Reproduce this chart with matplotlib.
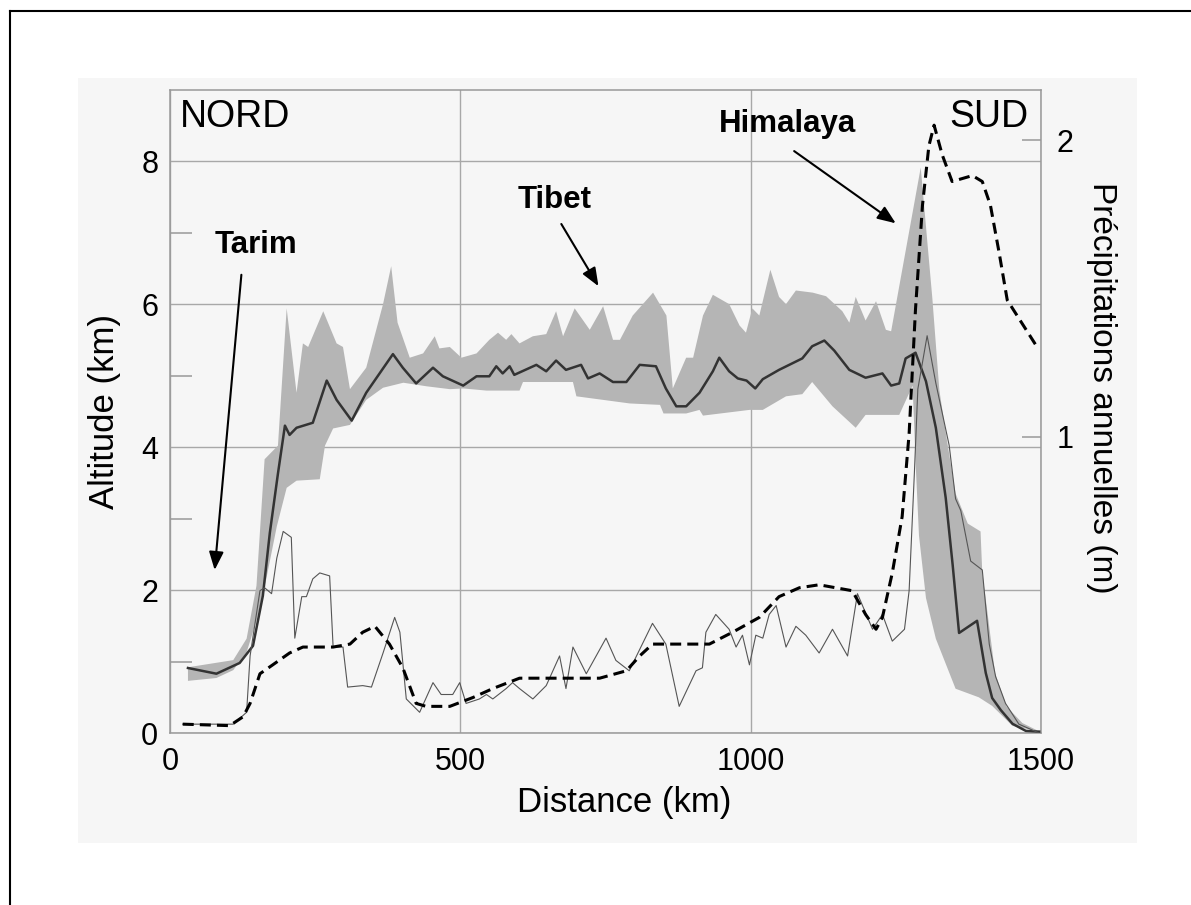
import numpy as np
import matplotlib.pyplot as plt
from matplotlib.patches import Rectangle
from matplotlib.lines import Line2D

plt.rcParams['font.family'] = ['Liberation Sans', 'DejaVu Sans']

# =============================================================================
# --- Données ------------------------------------------------------------------
# =============================================================================

# altitude moyenne (km)
alt_x = [31, 80, 120, 143, 160, 172, 186, 198, 206, 218, 246, 270, 287, 313, 338, 384, 401, 424, 453, 470,
         505, 528, 550, 562, 573, 585, 593, 631, 648, 665, 682, 708, 720, 740, 763, 786, 809, 837, 854, 872,
         889, 912, 935, 946, 963, 978, 993, 1008, 1021, 1049, 1089, 1106, 1127, 1144, 1170, 1198, 1227, 1242,
         1256, 1267, 1284, 1302, 1319, 1336, 1348, 1359, 1390, 1405, 1416, 1431, 1451, 1474, 1497]
alt_moy = [0.91, 0.83, 0.98, 1.22, 1.92, 2.8, 3.63, 4.3, 4.17, 4.27, 4.34, 4.93, 4.66, 4.37, 4.76, 5.3, 5.11, 4.89,
           5.11, 4.99, 4.86, 4.99, 4.99, 5.13, 5.03, 5.13, 5.01, 5.15, 5.06, 5.21, 5.08, 5.15, 4.96, 5.03, 4.91,
           4.91, 5.15, 5.13, 4.82, 4.57, 4.57, 4.76, 5.06, 5.25, 5.06, 4.96, 4.93, 4.82, 4.95, 5.08, 5.24, 5.41,
           5.49, 5.35, 5.08, 4.97, 5.03, 4.86, 4.89, 5.24, 5.32, 4.92, 4.27, 3.29, 2.35, 1.4, 1.57, 0.84, 0.49,
           0.32, 0.13, 0.03, 0.02]

# altitude maximale (bord haut de la bande grise)
max_x = [31, 109, 132, 149, 163, 186, 201, 218, 229, 238, 264, 287, 298, 310, 338, 367, 381, 392, 413, 436,
         456, 464, 482, 502, 528, 550, 565, 579, 588, 602, 625, 648, 665, 677, 697, 723, 746, 763, 775, 797,
         832, 855, 866, 889, 901, 918, 935, 963, 981, 992, 1003, 1015, 1034, 1049, 1061, 1078, 1107, 1130,
         1158, 1170, 1181, 1198, 1216, 1233, 1242, 1256, 1293, 1313, 1325, 1338, 1353, 1374, 1396, 1399,
         1408, 1421, 1441, 1468, 1493]
alt_max = [0.92, 1.02, 1.32, 2.06, 3.83, 4.02, 5.94, 4.76, 5.45, 5.4, 5.9, 5.45, 5.4, 4.81, 5.11, 6.0, 6.53, 5.74,
           5.25, 5.31, 5.55, 5.38, 5.4, 5.25, 5.31, 5.5, 5.6, 5.5, 5.58, 5.45, 5.55, 5.58, 5.9, 5.55, 5.94, 5.64,
           5.97, 5.5, 5.5, 5.84, 6.16, 5.84, 4.82, 5.25, 5.25, 5.84, 6.13, 6.0, 5.7, 5.6, 5.94, 5.84, 6.48, 6.1,
           6.0, 6.19, 6.16, 6.11, 5.9, 5.74, 6.1, 5.77, 6.04, 5.64, 5.62, 6.25, 7.91, 6.08, 4.8, 4.1, 3.35, 2.93,
           2.82, 2.24, 1.68, 0.84, 0.37, 0.14, 0.04]

# altitude minimale (bord bas de la bande grise)
min_x = [31, 80, 109, 132, 149, 166, 184, 201, 218, 258, 267, 281, 310, 338, 367, 402, 442, 482, 505, 545,
         602, 608, 694, 700, 792, 844, 850, 889, 912, 918, 998, 1021, 1061, 1089, 1106, 1141, 1181, 1198,
         1256, 1279, 1284, 1290, 1302, 1319, 1353, 1393, 1416, 1451, 1493]
alt_min = [0.73, 0.77, 0.88, 1.13, 1.57, 2.16, 2.89, 3.43, 3.53, 3.55, 4.02, 4.26, 4.31, 4.66, 4.83, 4.9, 4.85,
           4.81, 4.82, 4.79, 4.79, 4.91, 4.91, 4.71, 4.61, 4.59, 4.47, 4.47, 4.52, 4.44, 4.52, 4.52, 4.71, 4.74,
           4.91, 4.57, 4.27, 4.45, 4.45, 4.86, 3.81, 2.76, 1.89, 1.32, 0.62, 0.5, 0.38, 0.1, 0.03]

# précipitations (m), trait fin
fin_x = [22, 109, 132, 138, 155, 163, 175, 184, 195, 209, 215, 227, 235, 246, 258, 275, 281, 298, 306, 332,
         347, 367, 387, 396, 407, 430, 453, 467, 487, 499, 510, 533, 545, 556, 579, 590, 602, 625, 648, 671,
         682, 694, 717, 751, 768, 791, 831, 854, 877, 906, 917, 923, 940, 963, 975, 986, 998, 1009, 1021, 1032,
         1044, 1061, 1078, 1095, 1118, 1141, 1167, 1184, 1210, 1227, 1244, 1265, 1273, 1282, 1288, 1304, 1319,
         1342, 1353, 1362, 1379, 1399, 1411, 1422, 1439, 1462, 1497]
prec_fin = [0.03, 0.03, 0.07, 0.26, 0.48, 0.49, 0.47, 0.59, 0.68, 0.66, 0.32, 0.46, 0.46, 0.52, 0.54, 0.53, 0.29,
            0.29, 0.155, 0.16, 0.155, 0.27, 0.39, 0.34, 0.115, 0.07, 0.17, 0.13, 0.13, 0.17, 0.10, 0.115, 0.13,
            0.115, 0.15, 0.17, 0.15, 0.115, 0.16, 0.26, 0.15, 0.29, 0.20, 0.32, 0.245, 0.21, 0.37, 0.30, 0.09,
            0.21, 0.22, 0.34, 0.40, 0.35, 0.29, 0.33, 0.23, 0.33, 0.32, 0.40, 0.43, 0.29, 0.36, 0.33, 0.27, 0.35,
            0.26, 0.47, 0.35, 0.40, 0.31, 0.35, 0.48, 0.875, 1.16, 1.34, 1.18, 0.97, 0.79, 0.75, 0.58, 0.55,
            0.30, 0.19, 0.10, 0.03, 0.0]

# précipitations (m), tirets
tir_x = [22, 103, 126, 138, 155, 177, 206, 229, 281, 310, 332, 353, 378, 401, 424, 441, 482, 522, 556, 602,
         740, 786, 809, 831, 929, 969, 1015, 1049, 1084, 1118, 1175, 1198, 1216, 1227, 1244, 1261, 1273, 1284,
         1296, 1307, 1316, 1330, 1347, 1382, 1399, 1413, 1428, 1442, 1468, 1494]
prec_tir = [0.03, 0.025, 0.055, 0.10, 0.20, 0.23, 0.27, 0.29, 0.29, 0.30, 0.34, 0.36, 0.30, 0.22, 0.10, 0.09,
            0.09, 0.12, 0.15, 0.185, 0.185, 0.21, 0.26, 0.30, 0.30, 0.34, 0.39, 0.46, 0.49, 0.50, 0.48, 0.40,
            0.35, 0.39, 0.54, 0.73, 1.01, 1.43, 1.78, 1.98, 2.05, 1.95, 1.86, 1.88, 1.86, 1.78, 1.62, 1.46,
            1.38, 1.30]

gris = '#999999'

# =============================================================================
# --- Création de la figure ------------------------------------------------------
# =============================================================================
fig = plt.figure(figsize=(11.91, 9.05), dpi=100)

# fond gris clair de la figure scannée + cadre de la page
fig.add_artist(Rectangle((0.0655, 0.0685), 0.889, 0.845, transform=fig.transFigure,
                         facecolor='#f6f6f6', edgecolor='none', zorder=-10))
fig.add_artist(Line2D([0.0084, 1.0], [0.988, 0.988], transform=fig.transFigure, color='black', lw=1.5))
fig.add_artist(Line2D([0.0084, 0.0084], [0.0, 0.988], transform=fig.transFigure, color='black', lw=1.5))

ax = fig.add_axes([0.1427, 0.190, 0.7313, 0.711])
ax.set_facecolor('none')

# bande grise min/max puis altitude moyenne
ax.fill(max_x + min_x[::-1], alt_max + alt_min[::-1], color='#b5b5b5', lw=0, zorder=1)
ax.plot(alt_x, alt_moy, color='#333333', lw=1.8, zorder=3)

ax.set_xlim(0, 1500)
ax.set_ylim(0, 9)
ax.set_xticks([0, 500, 1000, 1500])
ax.set_yticks([0, 2, 4, 6, 8])
ax.set_yticks([1, 3, 5, 7], minor=True)
ax.grid(True, which='major', color='#a8a8a8', lw=1.0)
ax.set_axisbelow(True)
ax.tick_params(axis='both', which='major', length=0, labelsize=22)
ax.tick_params(axis='x', which='major', pad=10)
ax.tick_params(axis='y', which='major', pad=8.5)
ax.tick_params(axis='y', which='minor', direction='in', length=16, width=1.1, color=gris)
for s in ax.spines.values():
    s.set_color(gris)
    s.set_linewidth(1.1)

ax.set_xlabel('Distance (km)', fontsize=25)
ax.xaxis.set_label_coords(0.522, -0.082)
ax.set_ylabel('Altitude (km)', fontsize=25, va='center')
ax.yaxis.set_label_coords(-0.0746, 0.5)

# axe de droite : précipitations
ax2 = ax.twinx()
ax2.plot(fin_x, prec_fin, color='#555555', lw=0.8, zorder=4)
ax2.plot(tir_x, prec_tir, color='black', lw=2.2, dashes=(3.6, 2.0), zorder=5)
ax2.set_ylim(0, 2.17)
ax2.set_yticks([1, 2])
ax2.tick_params(axis='y', direction='in', length=14, width=1.1, color=gris, labelsize=22, pad=11)
for s in ax2.spines.values():
    s.set_visible(False)
ax2.set_ylabel('Précipitations annuelles (m)', fontsize=24, rotation=-90, va='center')
ax2.yaxis.set_label_coords(1.070, 0.536)

# textes et flèches
ax.text(17, 8.47, 'NORD', fontsize=27, ha='left', va='baseline')
ax.text(1479, 8.47, 'SUD', fontsize=27, ha='right', va='baseline')

fleche = dict(arrowstyle='-|>,head_length=0.55,head_width=0.22', color='black', lw=1.5,
              mutation_scale=20, shrinkA=0, shrinkB=0)
ax.text(148, 6.72, 'Tarim', fontsize=22.5, fontweight='bold', ha='center', va='baseline')
ax.annotate('', xy=(77, 2.28), xytext=(123, 6.41), arrowprops=fleche)
ax.text(662, 7.35, 'Tibet', fontsize=22.5, fontweight='bold', ha='center', va='baseline')
ax.annotate('', xy=(738, 6.25), xytext=(674, 7.12), arrowprops=fleche)
ax.text(1063, 8.40, 'Himalaya', fontsize=22.5, fontweight='bold', ha='center', va='baseline')
ax.annotate('', xy=(1250, 7.13), xytext=(1075, 8.14), arrowprops=fleche)

fig.savefig('out.png', dpi=100)
